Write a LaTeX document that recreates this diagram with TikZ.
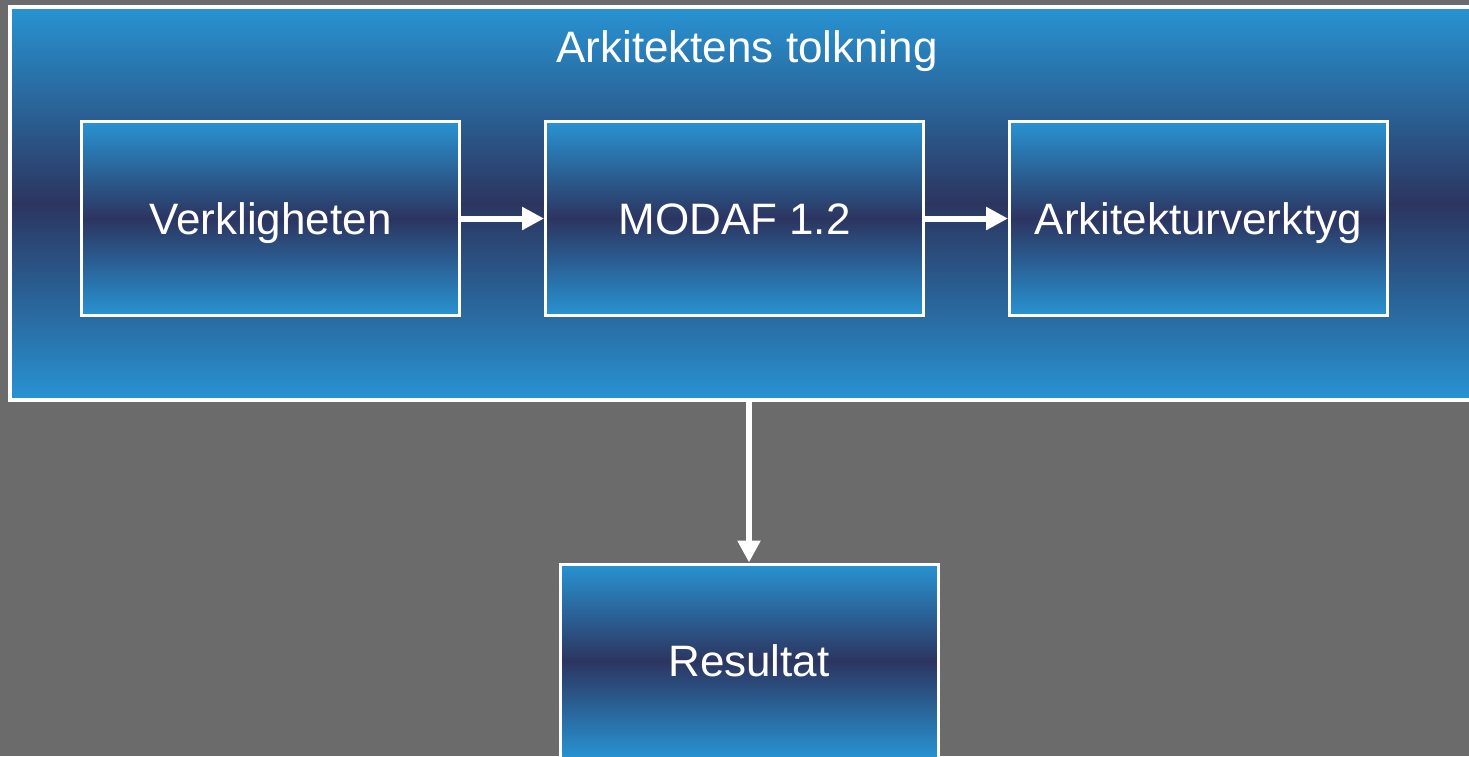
\documentclass[tikz,border=0pt]{standalone}
\usepackage{fontspec}
\setmainfont{Liberation Sans}
\usepackage{xcolor}
\usetikzlibrary{arrows.meta}
\definecolor{bgGray}{HTML}{6B6B6B}
\definecolor{boxBlue}{HTML}{2893D2}
\definecolor{boxDark}{HTML}{2C3560}

\begin{document}
\begin{tikzpicture}[x=1pt,y=-1pt,
  label text/.style={text=white,font={\fontsize{44}{52}\selectfont},text height=31.5pt,text depth=0pt},
  box/.style={label text,draw=white,line width=3pt,top color=boxBlue,bottom color=boxBlue,middle color=boxDark,
    minimum width=378pt,minimum height=194pt,inner sep=0pt},
  link/.style={draw=white,line width=6pt,-{Triangle[length=22pt,width=22pt]}}]

\useasboundingbox (0,0) rectangle (1469,756);
\clip (0,0) rectangle (1469,756);
\fill[bgGray] (0,0) rectangle (1469,756);

\node[box,minimum width=1490pt,minimum height=393pt,line width=4pt] (frame) at (755,203.5) {};
\node[label text] (title) at (747,47) {Arkitektens tolkning};

\foreach \nm/\txt [count=\i from 0] in {verk/Verkligheten,modaf/MODAF 1.2,verktyg/Arkitekturverktyg}
{
\node[box] (\nm) at ({270.5+464*\i},218.5) {\txt};
}
\node[box] (result) at (749,661) {Resultat};

\draw[link] (verk) -- (modaf);
\draw[link] (modaf) -- (verktyg);
\draw[link] (result.north |- frame.south) -- (result);
\end{tikzpicture}
\end{document}
